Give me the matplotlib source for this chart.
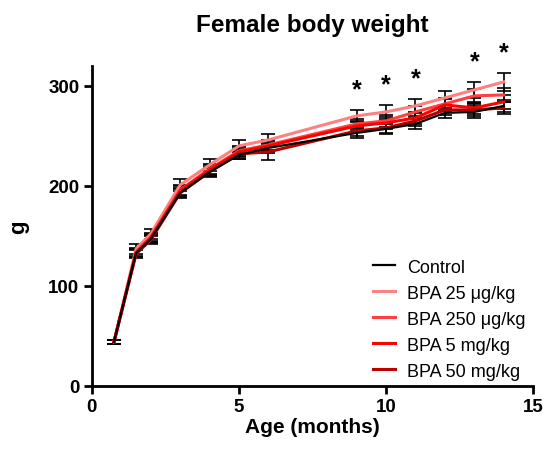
import matplotlib
matplotlib.use("Agg")
import matplotlib.pyplot as plt
import numpy as np

plt.rcParams['font.family'] = ['Liberation Sans', 'DejaVu Sans']

# age (months) and mean body weight (g) per group
age = [0.75, 1.5, 2, 3, 4, 5, 6, 9, 10, 11, 12, 13, 14]
control = [44, 133, 147, 193, 214, 231, 238, 253, 257, 262, 273, 274, 280]
bpa25 = [44, 137, 152, 201, 221, 240, 246, 270, 274, 280, 288, 296, 304]
bpa250 = [44, 134, 149, 196, 217, 235, 241, 262, 265, 274, 282, 290, 291]
bpa5 = [44, 133, 148, 195, 216, 234, 240, 260, 263, 268, 281, 278, 284]
bpa50 = [44, 132, 146, 193, 214, 232, 234, 255, 258, 265, 276, 276, 278]

control_sem = [2, 4, 4, 4, 4, 4, 5, 5, 5, 5, 5, 6, 6]
bpa25_sem = [2, 5, 5, 6, 6, 6, 6, 6, 7, 7, 7, 8, 9]
bpa250_sem = [2, 4, 4, 5, 5, 5, 5, 5, 6, 6, 6, 7, 7]
bpa5_sem = [2, 4, 4, 5, 5, 5, 5, 5, 6, 6, 6, 6, 7]
bpa50_sem = [2, 4, 4, 5, 5, 5, 8, 5, 5, 5, 5, 6, 6]

labels = ["Control", "BPA 25 \u03bcg/kg", "BPA 250 \u03bcg/kg", "BPA 5 mg/kg", "BPA 50 mg/kg"]
colors = ["#000000", "#ff8080", "#ff4040", "#ff0000", "#bb0000"]

# months with significant difference
sig_age = [9, 10, 11, 13, 14]

fig = plt.figure(figsize=(5.44, 4.52), dpi=100)
ax = fig.add_axes([0.169, 0.144, 0.811, 0.708])

series = [control, bpa25, bpa250, bpa5, bpa50]
sems = [control_sem, bpa25_sem, bpa250_sem, bpa5_sem, bpa50_sem]
order = [1, 2, 3, 4, 0]
handles = [None] * 5
for i in order:
    ax.errorbar(age, series[i], yerr=sems[i], fmt='none', ecolor='black',
                elinewidth=1.2, capsize=5, capthick=1.2, zorder=2)
    h, = ax.plot(age, series[i], color=colors[i], lw=2.2 if i else 1.6, zorder=3)
    handles[i] = h

# stars above the highest error bar
for a in sig_age:
    k = age.index(a)
    top = max(s[k] + e[k] for s, e in zip(series, sems))
    ax.text(a, top + 21, "*", ha='center', va='center', fontsize=18, fontweight='bold')

ax.set_xlim(0, 15)
ax.set_ylim(0, 320)
ax.set_xticks([0, 5, 10, 15])
ax.set_yticks([0, 100, 200, 300])
for s in ['top', 'right']:
    ax.spines[s].set_visible(False)
for s in ['left', 'bottom']:
    ax.spines[s].set_linewidth(2)
ax.tick_params(width=2, length=6, labelsize=13.5, pad=3)
for t in ax.get_xticklabels() + ax.get_yticklabels():
    t.set_fontweight('bold')

ax.set_xlabel("Age (months)", fontsize=15, fontweight='bold', labelpad=1)
ax.set_ylabel("g", fontsize=16, fontweight='bold', labelpad=14)
ax.set_title("Female body weight", fontsize=17.5, fontweight='bold', pad=25)

ax.legend(handles, labels, loc='upper left', bbox_to_anchor=(0.637, 0.398),
          frameon=False, fontsize=13, handlelength=1.2, handletextpad=0.7,
          labelspacing=0.5, borderpad=0, borderaxespad=0)

fig.savefig("out.png", dpi=100)
